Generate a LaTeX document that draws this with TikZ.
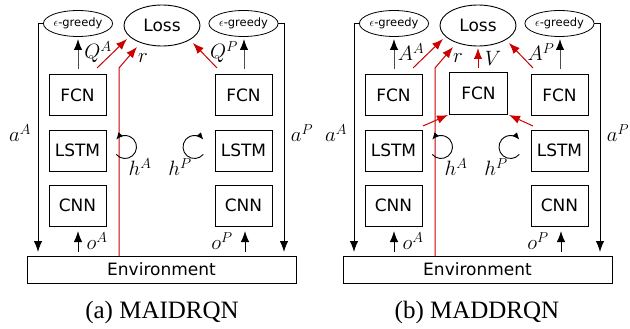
\documentclass[tikz,border=0pt]{standalone}
\usepackage{fontspec}
\setmainfont{Liberation Serif}
\setsansfont{DejaVu Sans}
\usetikzlibrary{arrows.meta,shapes.geometric}
\definecolor{netred}{RGB}{204,0,0}
\begin{document}
\begin{tikzpicture}[x=1pt,y=-1pt,
  box/.style={draw, line width=0.9pt, minimum width=57pt, minimum height=41pt,
    inner sep=0pt, font=\sffamily\fontsize{17}{20}\selectfont},
  envbox/.style={draw, line width=0.9pt, minimum width=269pt, minimum height=27pt,
    inner sep=0pt, font=\sffamily\fontsize{17}{20}\selectfont},
  greedy/.style={draw, ellipse, line width=0.8pt, minimum width=58pt, minimum height=26pt,
    inner sep=0pt, font=\sffamily\fontsize{11.5}{13}\selectfont},
  lossnode/.style={draw, ellipse, line width=0.9pt, minimum width=76pt, minimum height=41pt,
    inner sep=0pt, font=\sffamily\fontsize{17}{20}\selectfont},
  lab/.style={inner sep=0pt, font=\fontsize{22}{26}\selectfont},
  captext/.style={inner sep=0pt, font=\fontsize{25}{30}\selectfont},
  blk/.style={line width=1pt, -{Latex[length=11pt,width=8.5pt]}},
  upk/.style={line width=1pt, draw=black!70, -{Latex[length=11pt,width=8.5pt,fill=black,color=black]}},
  redarrow/.style={line width=1pt, draw=netred, -{Latex[length=11pt,width=8.5pt,color=netred]}},
  looparrow/.style={line width=0.9pt, -{Latex[length=7pt,width=6pt]}},
]
\useasboundingbox (0,0) rectangle (630,329);

% ---------------- (a) MAIDRQN ----------------
\node[greedy] (egA1) at (78,23.5) {$\epsilon$-greedy};
\node[lossnode] (loss1) at (162,25.5) {Loss};
\node[greedy] (egP1) at (243.5,23.5) {$\epsilon$-greedy};

\node[box] (fcnA1)  at (77.5,95)    {FCN};
\node[box] (lstmA1) at (77.5,150.5) {LSTM};
\node[box] (cnnA1)  at (77.5,205.5) {CNN};
\node[box] (fcnP1)  at (243.5,95)    {FCN};
\node[box] (lstmP1) at (243.5,150.5) {LSTM};
\node[box] (cnnP1)  at (243.5,205.5) {CNN};

\node[envbox] (env1) at (161.5,269.5) {Environment};

% action feedback lines
\coordinate (aA1t) at (43,23.3);
\coordinate (aA1c) at (38,23.3);
\coordinate (aA1b) at (38,252);
\draw[blk] (aA1t) -- (aA1c) -- (aA1b);
\coordinate (aP1t) at (278,23.3);
\coordinate (aP1c) at (284,23.3);
\coordinate (aP1b) at (284,252);
\draw[blk] (aP1t) -- (aP1c) -- (aP1b);

% Q-values to the policies
\coordinate (qA1s) at (78,69);
\coordinate (qA1e) at (78,39);
\draw[upk] (qA1s) -- (qA1e);
\coordinate (qP1s) at (244,69);
\coordinate (qP1e) at (244,39);
\draw[upk] (qP1s) -- (qP1e);

% observations
\coordinate (oA1s) at (78,252);
\coordinate (oA1e) at (78,231);
\draw[blk] (oA1s) -- (oA1e);
\coordinate (oP1s) at (245,252);
\coordinate (oP1e) at (245,231);
\draw[blk] (oP1s) -- (oP1e);

% loss inputs
\coordinate (lA1s) at (97,68);
\coordinate (lA1e) at (127,39);
\draw[redarrow] (lA1s) -- (lA1e);
\coordinate (lP1s) at (217,68);
\coordinate (lP1e) at (193,43);
\draw[redarrow] (lP1s) -- (lP1e);
\coordinate (r1a) at (119,256);
\coordinate (r1b) at (119,68);
\coordinate (r1c) at (137,47);
\draw[redarrow] (r1a) -- (r1b) -- (r1c);

% recurrent states (canvas angles, radius with unit)
\coordinate (hA1) at (116.19,154.39);
\draw[looparrow] (hA1) arc[start angle=220, end angle=500, radius=11.5pt];
\coordinate (hP1) at (203.31,154.39);
\draw[looparrow] (hP1) arc[start angle=320, end angle=40, radius=11.5pt];

% labels
\node[lab] (tQA1) at (98,52) {$Q^A$};
\node[lab] (tQP1) at (224,52) {$Q^P$};
\node[lab] (tr1)  at (143,58) {$r$};
\node[lab] (taA1) at (20,133) {$a^A$};
\node[lab] (taP1) at (302,133) {$a^P$};
\node[lab] (thA1) at (140,167) {$h^A$};
\node[lab] (thP1) at (180,167) {$h^P$};
\node[lab] (toA1) at (97,241) {$o^A$};
\node[lab] (toP1) at (222,241) {$o^P$};

\node[captext] (cap1) at (162,312) {(a) MAIDRQN};

% ---------------- (b) MADDRQN ----------------
\begin{scope}[xshift=316pt]
\node[greedy] (egA2) at (78,23.5) {$\epsilon$-greedy};
\node[lossnode] (loss2) at (162,25.5) {Loss};
\node[greedy] (egP2) at (243.5,23.5) {$\epsilon$-greedy};

\node[box] (fcnA2)  at (77.5,95)    {FCN};
\node[box] (lstmA2) at (77.5,150.5) {LSTM};
\node[box] (cnnA2)  at (77.5,205.5) {CNN};
\node[box] (fcnP2)  at (243.5,95)    {FCN};
\node[box] (lstmP2) at (243.5,150.5) {LSTM};
\node[box] (cnnP2)  at (243.5,205.5) {CNN};
\node[box, minimum width=58pt, minimum height=42pt] (fcnV2) at (162.5,93) {FCN};

\node[envbox] (env2) at (161.5,269.5) {Environment};

\coordinate (aA2t) at (43,23.3);
\coordinate (aA2c) at (38,23.3);
\coordinate (aA2b) at (38,252);
\draw[blk] (aA2t) -- (aA2c) -- (aA2b);
\coordinate (aP2t) at (278,23.3);
\coordinate (aP2c) at (284,23.3);
\coordinate (aP2b) at (284,252);
\draw[blk] (aP2t) -- (aP2c) -- (aP2b);

\coordinate (qA2s) at (78,69);
\coordinate (qA2e) at (78,39);
\draw[upk] (qA2s) -- (qA2e);
\coordinate (qP2s) at (244,69);
\coordinate (qP2e) at (244,39);
\draw[upk] (qP2s) -- (qP2e);

\coordinate (oA2s) at (78,252);
\coordinate (oA2e) at (78,231);
\draw[blk] (oA2s) -- (oA2e);
\coordinate (oP2s) at (245,252);
\coordinate (oP2e) at (245,231);
\draw[blk] (oP2s) -- (oP2e);

\coordinate (lA2s) at (97,68);
\coordinate (lA2e) at (127,39);
\draw[redarrow] (lA2s) -- (lA2e);
\coordinate (lP2s) at (217,68);
\coordinate (lP2e) at (193,43);
\draw[redarrow] (lP2s) -- (lP2e);
\coordinate (r2a) at (119,256);
\coordinate (r2b) at (119,68);
\coordinate (r2c) at (137,47);
\draw[redarrow] (r2a) -- (r2b) -- (r2c);

% value stream
\coordinate (v2s) at (162,68);
\coordinate (v2e) at (162,48);
\draw[redarrow] (v2s) -- (v2e);
\coordinate (hA2s) at (107,126);
\coordinate (hA2e) at (132,115);
\draw[redarrow] (hA2s) -- (hA2e);
\coordinate (hP2s) at (217,126);
\coordinate (hP2e) at (193,115);
\draw[redarrow] (hP2s) -- (hP2e);

\coordinate (hA2) at (116.19,154.39);
\draw[looparrow] (hA2) arc[start angle=220, end angle=500, radius=11.5pt];
\coordinate (hP2) at (203.31,154.39);
\draw[looparrow] (hP2) arc[start angle=320, end angle=40, radius=11.5pt];

\node[lab] (tAA2) at (95,52) {$A^A$};
\node[lab] (tAP2) at (225,52) {$A^P$};
\node[lab] (tr2)  at (142,58) {$r$};
\node[lab] (tV2)  at (177,58) {$V$};
\node[lab] (taA2) at (20,133) {$a^A$};
\node[lab] (taP2) at (302,133) {$a^P$};
\node[lab] (thA2) at (140,167) {$h^A$};
\node[lab] (thP2) at (180,167) {$h^P$};
\node[lab] (toA2) at (97,241) {$o^A$};
\node[lab] (toP2) at (222,241) {$o^P$};

\node[captext] (cap2) at (161,312) {(b) MADDRQN};
\end{scope}
\end{tikzpicture}
\end{document}
